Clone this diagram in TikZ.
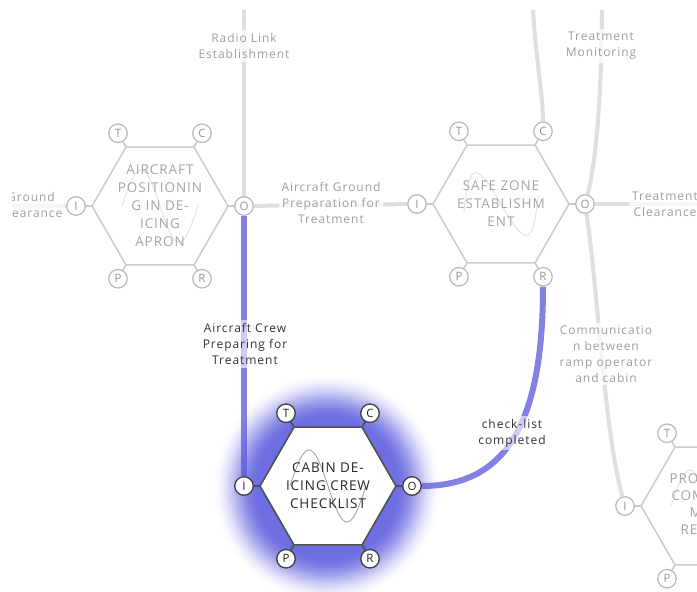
\documentclass[tikz,border=0pt]{standalone}
\usepackage{fontspec}
\setmainfont{Open Sans}
\newfontfamily\labelfam[LetterSpace=8]{Open Sans}
\newfontfamily\hexfam[LetterSpace=7]{Open Sans}
\newfontfamily\portfam{Open Sans}
\usetikzlibrary{calc}

\definecolor{glowc}{RGB}{110,110,226}
\definecolor{bluel}{RGB}{88,88,222}
\definecolor{grayline}{RGB}{223,223,223}
\definecolor{lighthex}{RGB}{203,203,203}
\definecolor{lighttext}{RGB}{165,165,165}
\definecolor{darkhex}{RGB}{80,80,80}

\pgfdeclarelayer{bg}
\pgfdeclarelayer{lines}
\pgfsetlayers{bg,lines,main}

\tikzset{
  conn/.style={draw=grayline, line width=4pt},
  flow/.style={draw=bluel, draw opacity=0.75, line width=6pt},
  hexlight/.style={draw=lighthex, line width=1.5pt, fill=white},
  hexdark/.style={draw=darkhex, line width=1.6pt, fill=white},
  stublight/.style={draw=lighthex, line width=1.5pt},
  stubdark/.style={draw=darkhex, line width=1.6pt},
  sinelight/.style={draw=black!11, line width=1pt},
  sinedark/.style={draw=black!33, line width=1pt},
  txtlight/.style={text=lighttext, align=center,
    font=\hexfam\fontsize{13.5}{18}\selectfont},
  txtdark/.style={text=black!85, align=center,
    font=\hexfam\fontsize{13.5}{18}\selectfont},
  portlight/.style={circle, draw=black!28, fill=white, line width=1.2pt,
    minimum size=18.5pt, inner sep=0pt, text=black!42,
    font=\portfam\fontsize{11.5}{11.5}\selectfont},
  portdark/.style={portlight, draw=black!75, text=black!85, line width=1.3pt},
  lbl/.style={text=black!38, align=center, fill=white, fill opacity=0.75,
    text opacity=1, inner sep=3pt,
    font=\labelfam\fontsize{12}{16}\selectfont},
  lbldark/.style={lbl, text=black!80, fill opacity=0.6},
}

% #1 name, #2 x, #3 y, #4 tone, #5 rotation of the wave, #6 title
\newcommand\hexcell[6]{%
  \coordinate (#1) at (#2,#3);
  \draw[hex#4] ($(#1)+(0:68)$) -- ($(#1)+(60:68)$) -- ($(#1)+(120:68)$)
    -- ($(#1)+(180:68)$) -- ($(#1)+(240:68)$) -- ($(#1)+(300:68)$) -- cycle;
  \draw[sine#4, shift={(#1)}, rotate=#5]
    plot[domain=0:360, samples=61] ({-38+\x*0.2111},{-36*sin(\x)});
  \node[txt#4] (#1-title) at (#1) {#6};
  \foreach \ang/\lab in {240/T,300/C,180/I,0/O,120/P,60/R}{
    \draw[stub#4] ($(#1)+(\ang:68)$) -- ($(#1)+(\ang:76)$);
    \node[port#4] (#1-\lab) at ($(#1)+(\ang:84)$) {\lab};
  }%
}

\begin{document}
\begin{tikzpicture}[x=1pt, y=-1pt]
\useasboundingbox (0,0) rectangle (697,592);

\begin{scope}
  \clip (12,10) rectangle (697,592);

  % process cells
  \hexcell{h1}{160}{206}{light}{0}{AIRCRAFT\\POSITIONIN\\G IN DE-\\ICING\\APRON}
  \hexcell{h2}{501}{204}{light}{12}{SAFE ZONE\\ESTABLISHM\\ENT}
  \hexcell{h3}{328}{486}{dark}{0}{CABIN DE-\\ICING CREW\\CHECKLIST}
  \hexcell{h4}{709}{506}{light}{0}{}
  \node[txtlight, anchor=base west] (h4-l1) at (666,483) {PROC};
  \node[txtlight, anchor=base west] (h4-l2) at (668,500) {COM};
  \node[txtlight, anchor=base west] (h4-l3) at (686,517) {M};
  \node[txtlight, anchor=base west] (h4-l4) at (677,534) {REC};

  % connector labels
  \node[lbl] (lab-radio) at (244,46) {Radio Link\\Establishment};
  \node[lbl] (lab-ground) at (31,205) {Ground\\Clearance};
  \node[lbl] (lab-agp) at (331,203) {Aircraft Ground\\Preparation for\\Treatment};
  \node[lbl] (lab-tm) at (601,46) {Treatment\\Monitoring};
  \node[lbl] (lab-tc) at (665,204) {Treatment\\Clearance};
  \node[lbl] (lab-comm) at (606,354) {Communicatio\\n between\\ramp operator\\and cabin};
  \node[lbldark] (lab-crew) at (245,344) {Aircraft Crew\\Preparing for\\Treatment};
  \node[lbldark] (lab-check) at (512,433) {check-list\\completed};
\end{scope}

% soft highlight around the active cell, built from nested discs
\begin{pgfonlayer}{bg}
  \fill[white] (0,0) rectangle (697,592);
  \coordinate (glow-c) at (327,488);
  \foreach \r in {115,114,...,68}{
    \pgfmathsetmacro\t{min(1,(115-\r)/46)}
    \pgfmathsetmacro\p{100*\t*\t*(3-2*\t)}
    \fill[glowc!\p!white] (glow-c) circle (\r);
  }
\end{pgfonlayer}

% connectors
\begin{pgfonlayer}{lines}
  \coordinate (rl-top) at (244,10);
  \coordinate (gc-left) at (12,206);
  \coordinate (c2-top) at (533,10);
  \coordinate (tm-top) at (602,10);
  \coordinate (tc-right) at (697,204);
  \draw[conn] (rl-top) -- (h1-O);
  \draw[conn] (gc-left) -- (h1-I);
  \draw[conn] (h1-O) -- (h2-I);
  \draw[conn] (c2-top) .. controls (536,60) and (543,95) .. (h2-C);
  \draw[conn] (tm-top) .. controls (601,120) and (594,170) .. (h2-O);
  \draw[conn] (h2-O) .. controls (598,290) and (604,430) .. (h4-I);
  \draw[conn] (h2-O) -- (tc-right);
  \draw[flow] (h1-O) -- (h3-I);
  \draw[flow] (h2-R) .. controls (543,425) and (505,486) .. (h3-O);
\end{pgfonlayer}
\end{tikzpicture}
\end{document}
